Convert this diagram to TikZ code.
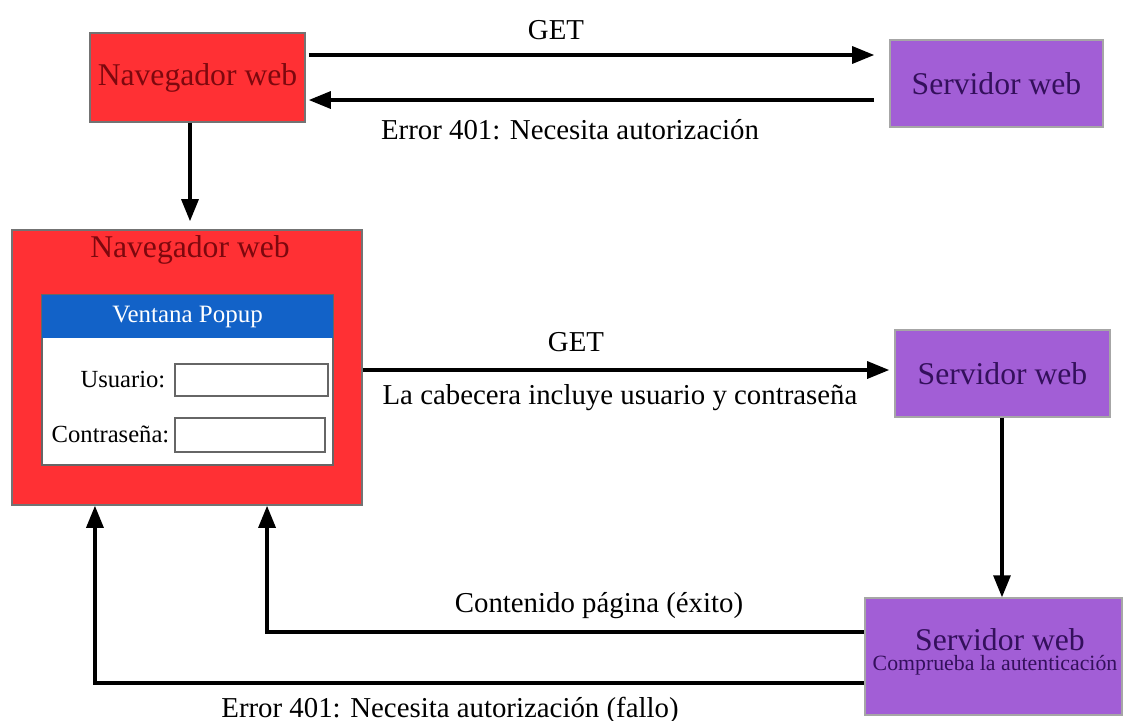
\documentclass[tikz,border=0pt]{standalone}
\usepackage{fontspec}
\setmainfont{Liberation Serif}
\usetikzlibrary{arrows.meta}
\definecolor{navred}{RGB}{255,48,52}
\definecolor{navtext}{RGB}{125,8,14}
\definecolor{srvpurple}{RGB}{162,94,214}
\definecolor{srvtext}{RGB}{52,16,92}
\definecolor{popblue}{RGB}{18,98,200}

\begin{document}
\begin{tikzpicture}[x=0.01cm, y=-0.01cm, >={Triangle[length=2.2mm,width=1.7mm]},
		font=\fontsize{9}{11}\selectfont,
		navbox/.style={draw=black!55, fill=navred, text=navtext, inner sep=0pt},
		srvbox/.style={draw=black!35, fill=srvpurple, text=srvtext, inner sep=0pt},
		flow/.style={->, line width=0.9pt},
		msg/.style={font=\fontsize{8.2}{10}\selectfont},
		field/.style={draw=black!60, fill=white, inner sep=0pt},
		formlabel/.style={anchor=east, inner sep=0pt, font=\fontsize{7}{8}\selectfont}]
		\useasboundingbox (0,0) rectangle (1123,720);
		% (1) first request without credentials
		\node[navbox, minimum width=2.15cm, minimum height=0.89cm] (nav1) at (197.5,77.5) {Navegador web};
		\node[srvbox, minimum width=2.13cm, minimum height=0.87cm] (srv1) at (996.5,83.5) {Servidor web};
		\draw[flow, shorten <=0.3mm, shorten >=1.5mm] ([yshift=2.25mm]nav1.east) -- ([yshift=2.25mm]nav1.east -| srv1.west);
		\draw[flow, shorten <=1.5mm, shorten >=0.3mm] ([yshift=-2.25mm]nav1.east -| srv1.west) -- ([yshift=-2.25mm]nav1.east);
		\node[msg] (get1) at (556,30) {GET};
		\node[msg] (err1) at (570,130) {Error 401: Necesita autorización};
		% (2) browser asks for user and password
		\node[navbox, minimum width=3.5cm, minimum height=2.75cm] (nav2) at (187,367.5) {};
		\node[text=navtext] (nav2title) at (190,250) {Navegador web};
		\draw[flow, shorten >=0.8mm] (nav1.south -| 190,0) -- (nav2.north -| 190,0);
		\node[field, minimum width=2.91cm, minimum height=1.70cm] (popup) at (187.5,380) {};
		\node[fill=popblue, text=white, minimum width=2.91cm, minimum height=0.43cm, inner sep=0pt,
			font=\fontsize{7.1}{8}\selectfont] (popbar) at (187.5,316.5) {Ventana Popup};
		\node[formlabel] (userlbl) at (166,380) {Usuario:};
		\node[field, minimum width=1.53cm, minimum height=0.32cm] (userbox) at (251.5,380) {};
		\node[formlabel] (passlbl) at (170,434) {Contraseña:};
		\node[field, minimum width=1.50cm, minimum height=0.34cm] (passbox) at (250,435) {};
		% (3) second request with credentials
		\node[srvbox, minimum width=2.15cm, minimum height=0.87cm] (srv2) at (1002.5,373.5) {Servidor web};
		\draw[flow, shorten >=0.5mm] (nav2.east |- 0,370) -- (srv2.west |- 0,370);
		\node[msg] (get2) at (576,342) {GET};
		\node[msg] (hdr) at (620,398) {La cabecera incluye usuario y contraseña};
		\node[srvbox, minimum width=2.57cm, minimum height=1.17cm] (srv3) at (993.5,656.5) {};
		\node[text=srvtext] (srv3title) at (1000,640) {Servidor web};
		\node[text=srvtext, font=\fontsize{6.2}{7}\selectfont] (srv3sub) at (995,665) {Comprueba la autenticación};
		\draw[flow] (srv2.south -| 1002,0) -- (srv3.north -| 1002,0);
		% (4) answers back to the browser
		\draw[flow] ([yshift=2.45mm]srv3.west) -| ([xshift=8mm]nav2.south);
		\draw[flow] ([yshift=-2.65mm]srv3.west) -| ([xshift=-9.2mm]nav2.south);
		\node[msg] (ok) at (599,606) {Contenido página (éxito)};
		\node[msg] (err2) at (450,710) {Error 401: Necesita autorización (fallo)};
	\end{tikzpicture}
\end{document}
